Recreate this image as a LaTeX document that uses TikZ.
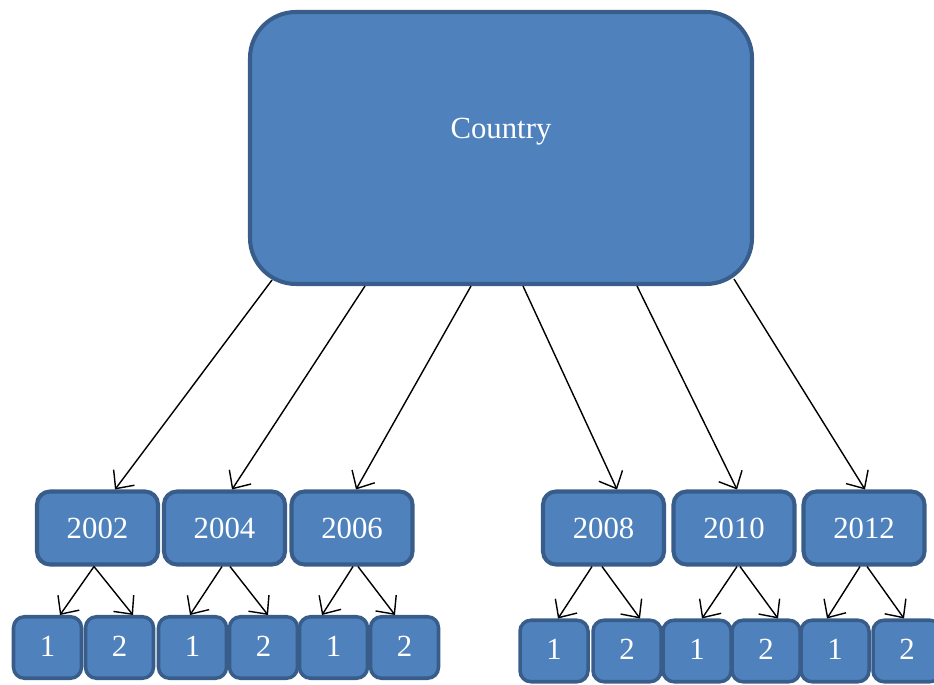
\documentclass[tikz,border=0pt]{standalone}
\usepackage{fontspec}
\setmainfont{Liberation Serif}
\usetikzlibrary{arrows.meta}
\definecolor{azulcaja}{HTML}{4F81BD}
\definecolor{azulborde}{HTML}{385D8A}
\tikzstyle{bigbox} = [rectangle, rounded corners=0.92cm, minimum width=10.04cm, minimum height=5.44cm, draw=azulborde, line width=2.3pt, fill=azulcaja]
\tikzstyle{yearbox} = [rectangle, rounded corners=0.26cm, minimum width=2.42cm, minimum height=1.46cm, draw=azulborde, line width=2.3pt, fill=azulcaja, text=white, font=\fontsize{17.5}{21}\selectfont]
\tikzstyle{subbox} = [rectangle, rounded corners=0.22cm, minimum width=1.36cm, minimum height=1.23cm, inner sep=1pt, text height=1em, text depth=0pt, draw=azulborde, line width=2pt, fill=azulcaja, text=white, font=\fontsize{17.5}{21}\selectfont]
\tikzstyle{arrow} = [line width=0.8pt, -{Straight Barb[length=2.8mm,width=5.2mm]}]

\begin{document}
\begin{tikzpicture}
        \useasboundingbox (0,0) rectangle (18.68,13.68);
        \node (country) [bigbox, label={[text=white, font=\fontsize{17.5}{21}\selectfont, yshift=0.32cm]center:Country}] at (10.02,10.72) {};

        \node (y2002) [yearbox] at (1.95,3.12) {2002};
        \node (y2004) [yearbox] at (4.49,3.12) {2004};
        \node (y2006) [yearbox] at (7.04,3.12) {2006};
        \node (y2008) [yearbox] at (12.07,3.12) {2008};
        \node (y2010) [yearbox] at (14.68,3.12) {2010};
        \node (y2012) [yearbox] at (17.28,3.12) {2012};

        \node (y2002a) [subbox] at (0.95,0.73) {1};
        \node (y2002b) [subbox] at (2.39,0.73) {2};
        \node (y2004a) [subbox] at (3.85,0.73) {1};
        \node (y2004b) [subbox] at (5.27,0.73) {2};
        \node (y2006a) [subbox] at (6.67,0.73) {1};
        \node (y2006b) [subbox] at (8.09,0.73) {2};
        \node (y2008a) [subbox] at (11.08,0.66) {1};
        \node (y2008b) [subbox] at (12.54,0.66) {2};
        \node (y2010a) [subbox] at (13.94,0.66) {1};
        \node (y2010b) [subbox] at (15.32,0.66) {2};
        \node (y2012a) [subbox] at (16.70,0.66) {1};
        \node (y2012b) [subbox] at (18.14,0.66) {2};

        \draw [arrow] ([xshift=-4.58cm,yshift=0.12cm]country.south) -- ([xshift=0.35cm]y2002.north);
        \draw [arrow] ([xshift=-2.72cm]country.south) -- ([xshift=0.15cm]y2004.north);
        \draw [arrow] ([xshift=-0.60cm]country.south) -- ([xshift=0.08cm]y2006.north);
        \draw [arrow] ([xshift=0.44cm]country.south) -- ([xshift=0.27cm]y2008.north);
        \draw [arrow] ([xshift=2.72cm]country.south) -- ([xshift=0.06cm]y2010.north);
        \draw [arrow] ([xshift=4.66cm,yshift=0.14cm]country.south) -- ([xshift=0.02cm]y2012.north);

        \draw [arrow] ([xshift=-0.07cm]y2002.south) -- ([xshift=0.25cm]y2002a.north);
        \draw [arrow] ([xshift=-0.07cm]y2002.south) -- ([xshift=0.27cm]y2002b.north);
        \draw [arrow] ([xshift=-0.05cm]y2004.south) -- ([xshift=-0.05cm]y2004a.north);
        \draw [arrow] ([xshift=0.11cm]y2004.south) -- ([xshift=0.09cm]y2004b.north);
        \draw [arrow] ([xshift=0.02cm]y2006.south) -- ([xshift=-0.23cm]y2006a.north);
        \draw [arrow] ([xshift=0.12cm]y2006.south) -- ([xshift=-0.19cm]y2006b.north);
        \draw [arrow] ([xshift=-0.23cm]y2008.south) -- ([xshift=0.08cm]y2008a.north);
        \draw [arrow] ([xshift=-0.03cm]y2008.south) -- ([xshift=0.26cm]y2008b.north);
        \draw [arrow] ([xshift=0.06cm]y2010.south) -- ([xshift=0.10cm]y2010a.north);
        \draw [arrow] ([xshift=0.12cm]y2010.south) -- ([xshift=0.24cm]y2010b.north);
        \draw [arrow] ([xshift=-0.08cm]y2012.south) -- ([xshift=-0.16cm]y2012a.north);
        \draw [arrow] ([xshift=0.06cm]y2012.south) -- ([xshift=-0.06cm]y2012b.north);
    \end{tikzpicture}
\end{document}
